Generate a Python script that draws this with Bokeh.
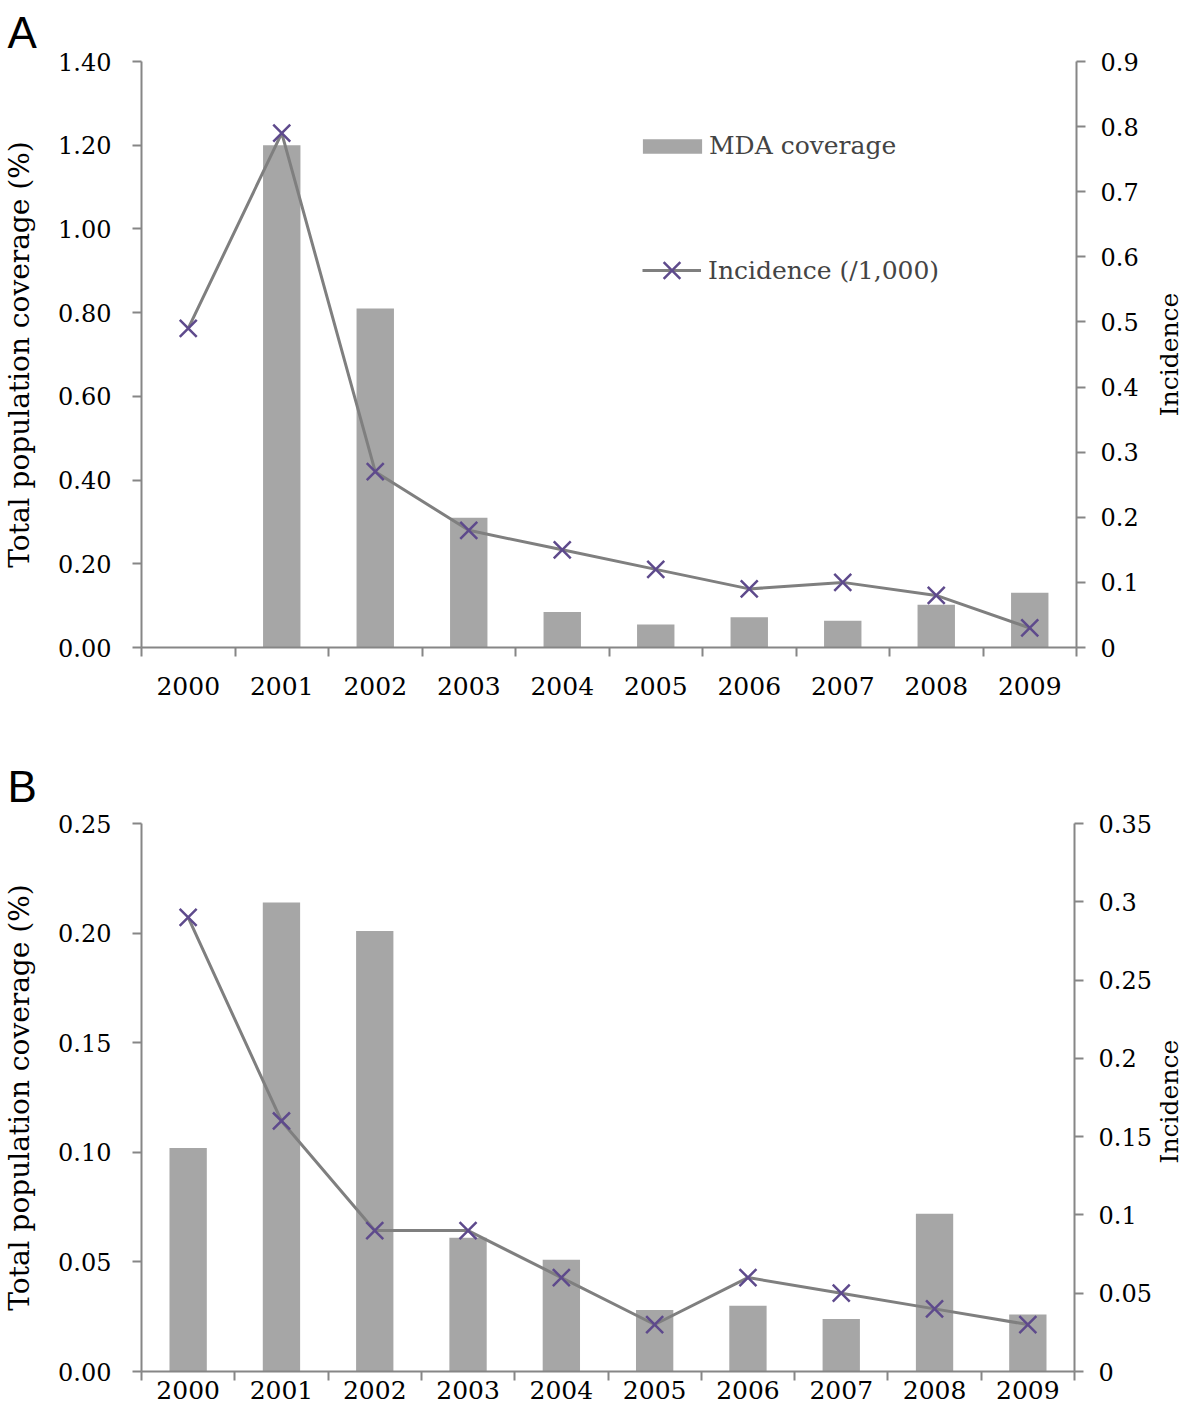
import math
from bokeh.plotting import figure
from bokeh.models import (Range1d, LinearAxis, FixedTicker, NumeralTickFormatter,
                          Legend, LegendItem, Title)
from bokeh.core.properties import value
from bokeh.layouts import column, row
from bokeh.embed import file_html
from bokeh.resources import INLINE

# ---------------- data ----------------
years = [2000, 2001, 2002, 2003, 2004, 2005, 2006, 2007, 2008, 2009]

# Panel A
mda_a = [0.0, 1.20, 0.81, 0.31, 0.085, 0.055, 0.072, 0.064, 0.102, 0.131]
inc_a = [0.49, 0.79, 0.27, 0.18, 0.15, 0.12, 0.09, 0.10, 0.08, 0.03]
left_ticks_a = [0.0, 0.2, 0.4, 0.6, 0.8, 1.0, 1.2, 1.4]
right_ticks_a = [0.0, 0.1, 0.2, 0.3, 0.4, 0.5, 0.6, 0.7, 0.8, 0.9]

# Panel B
mda_b = [0.102, 0.214, 0.201, 0.061, 0.051, 0.028, 0.030, 0.024, 0.072, 0.026]
inc_b = [0.29, 0.16, 0.09, 0.09, 0.06, 0.03, 0.06, 0.05, 0.04, 0.03]
left_ticks_b = [0.0, 0.05, 0.10, 0.15, 0.20, 0.25]
right_ticks_b = [0.0, 0.05, 0.10, 0.15, 0.20, 0.25, 0.30, 0.35]

bar_label = "MDA coverage"
line_label = "Incidence (/1,000)"
left_title = "Total population coverage (%)"
right_title = "Incidence"

# ---------------- style ----------------
BAR = "#A6A6A6"
LINE = "#7F7F7F"
MARK = "#5E4A8C"
AXIS = "#868686"
SERIF = "DejaVu Serif"
TICK_FS = "24px"
XTICK_FS = "25px"
TITLE_FS = "28px"

MAIN_W = 1154
SIDE_W = 30
FRAME_LEFT = 134
FRAME_RIGHT = 1076


def make_panel(letter, mda, inc, left_ticks, right_ticks, height, top, bottom,
               x_standoff, letter_standoff, title_shift, with_legend):
    p = figure(width=MAIN_W, height=height, output_backend="svg",
               toolbar_location=None,
               x_range=Range1d(years[0] - 0.5, years[-1] + 0.5),
               y_range=Range1d(left_ticks[0], left_ticks[-1]),
               min_border_left=FRAME_LEFT, min_border_right=MAIN_W - FRAME_RIGHT,
               min_border_top=top, min_border_bottom=bottom)
    p.extra_y_ranges = {"inc": Range1d(right_ticks[0], right_ticks[-1])}
    p.outline_line_color = None
    p.xgrid.visible = False
    p.ygrid.visible = False
    p.background_fill_color = "white"
    p.border_fill_color = "white"

    p.title = Title(text=letter, align="left", offset=-FRAME_LEFT,
                    standoff=letter_standoff,
                    text_font="Liberation Sans", text_font_size="44px",
                    text_font_style="normal", text_color="black")

    bars = p.vbar(x=years, top=mda, width=0.4, fill_color=BAR, line_color=None)
    ln = p.line(years, inc, y_range_name="inc", line_color=LINE, line_width=3)
    mk = p.scatter(years, inc, y_range_name="inc", marker="x", size=24,
                   line_color=MARK, line_width=2.5)

    # x axis: labels at centres, ticks at category boundaries (minor ticks)
    xa = p.xaxis[0]
    xa.ticker = FixedTicker(ticks=years,
                            minor_ticks=[y - 0.5 for y in years] + [years[-1] + 0.5])
    xa.major_tick_line_color = None
    xa.major_tick_out = 9
    xa.major_tick_in = 0
    xa.minor_tick_out = 9
    xa.minor_tick_in = 0
    xa.minor_tick_line_color = AXIS
    xa.minor_tick_line_width = 2
    xa.axis_line_color = AXIS
    xa.axis_line_width = 2
    xa.major_label_text_font = SERIF
    xa.major_label_text_font_size = XTICK_FS
    xa.major_label_text_color = "black"
    xa.major_label_standoff = x_standoff

    ya = p.yaxis[0]
    ya.ticker = FixedTicker(ticks=left_ticks)
    ya.formatter = NumeralTickFormatter(format="0.00")
    ya.major_tick_out = 9
    ya.major_tick_in = 0
    ya.minor_tick_line_color = None
    ya.major_tick_line_color = AXIS
    ya.major_tick_line_width = 2
    ya.axis_line_color = AXIS
    ya.axis_line_width = 2
    ya.major_label_text_font = SERIF
    ya.major_label_text_font_size = TICK_FS
    ya.major_label_text_color = "black"
    ya.major_label_standoff = 21
    ya.axis_label = left_title
    ya.axis_label_text_font = SERIF
    ya.axis_label_text_font_size = TITLE_FS
    ya.axis_label_text_font_style = "normal"
    ya.axis_label_text_color = "black"
    ya.axis_label_standoff = 19

    ra = LinearAxis(y_range_name="inc", ticker=FixedTicker(ticks=right_ticks),
                    formatter=NumeralTickFormatter(format="0.[00]"))
    ra.major_tick_out = 9
    ra.major_tick_in = 0
    ra.minor_tick_line_color = None
    ra.major_tick_line_color = AXIS
    ra.major_tick_line_width = 2
    ra.axis_line_color = AXIS
    ra.axis_line_width = 2
    ra.major_label_text_font = SERIF
    ra.major_label_text_font_size = TICK_FS
    ra.major_label_text_color = "black"
    ra.major_label_standoff = 15
    p.add_layout(ra, "right")

    if with_legend:
        lg1 = Legend(items=[LegendItem(label=bar_label, renderers=[bars])],
                     location=(494, 487), glyph_width=74, glyph_height=18,
                     label_text_font=SERIF, label_text_font_size="25px",
                     label_standoff=0, padding=0, margin=0, spacing=0,
                     border_line_color=None, background_fill_alpha=0)
        lg2 = Legend(items=[LegendItem(label=line_label, renderers=[ln, mk])],
                     location=(501, 347), glyph_width=59, glyph_height=60,
                     label_text_font=SERIF, label_text_font_size="25px",
                     label_standoff=7, padding=0, margin=0, spacing=0,
                     border_line_color=None, background_fill_alpha=0)
        p.add_layout(lg1)
        p.add_layout(lg2)

    # narrow side strip carrying the right-hand axis title (reads bottom to top)
    s = figure(width=SIDE_W, height=height, output_backend="svg",
               toolbar_location=None, x_range=Range1d(0, SIDE_W),
               y_range=Range1d(0, height), min_border=0,
               x_axis_type=None, y_axis_type=None)
    s.outline_line_color = None
    s.xgrid.visible = False
    s.ygrid.visible = False
    s.background_fill_color = "white"
    s.border_fill_color = "white"
    frame_h = height - top - bottom
    s.text(x=[SIDE_W / 2], y=[bottom + frame_h / 2 + title_shift], text=[right_title],
           angle=math.pi / 2, text_align="center", text_baseline="middle",
           text_font=value(SERIF), text_font_size=value("25px"), text_color="black")
    return row(p, s, spacing=0)


pa = make_panel("A", mda_a, inc_a, left_ticks_a, right_ticks_a,
                height=737, top=60, bottom=90, x_standoff=20,
                letter_standoff=10, title_shift=-15, with_legend=True)
pb = make_panel("B", mda_b, inc_b, left_ticks_b, right_ticks_b,
                height=670, top=86, bottom=36, x_standoff=0,
                letter_standoff=25, title_shift=20, with_legend=False)

layout = column(pa, pb, spacing=0)
open("out.html", "w").write(file_html(layout, INLINE))
